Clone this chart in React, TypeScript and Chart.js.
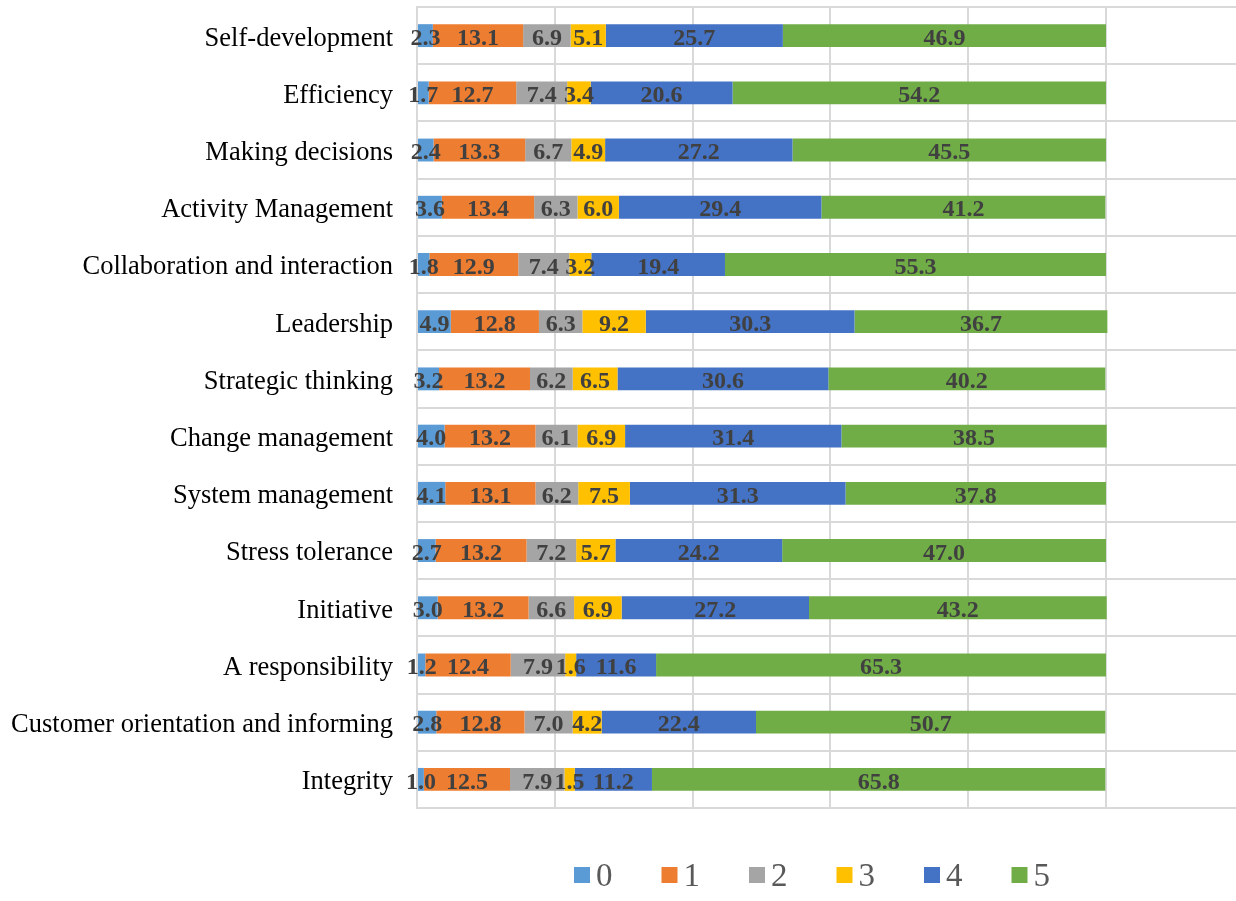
import React, { useEffect, useRef } from "react";
import { Chart, registerables } from "chart.js";

Chart.register(...registerables);

const categories = [
  "Self-development",
  "Efficiency",
  "Making decisions",
  "Activity Management",
  "Collaboration and interaction",
  "Leadership",
  "Strategic thinking",
  "Change management",
  "System management",
  "Stress tolerance",
  "Initiative",
  "A responsibility",
  "Customer orientation and informing",
  "Integrity",
];

const seriesNames = ["0", "1", "2", "3", "4", "5"];

const s0 = [2.3, 1.7, 2.4, 3.6, 1.8, 4.9, 3.2, 4.0, 4.1, 2.7, 3.0, 1.2, 2.8, 1.0];
const s1 = [13.1, 12.7, 13.3, 13.4, 12.9, 12.8, 13.2, 13.2, 13.1, 13.2, 13.2, 12.4, 12.8, 12.5];
const s2 = [6.9, 7.4, 6.7, 6.3, 7.4, 6.3, 6.2, 6.1, 6.2, 7.2, 6.6, 7.9, 7.0, 7.9];
const s3 = [5.1, 3.4, 4.9, 6.0, 3.2, 9.2, 6.5, 6.9, 7.5, 5.7, 6.9, 1.6, 4.2, 1.5];
const s4 = [25.7, 20.6, 27.2, 29.4, 19.4, 30.3, 30.6, 31.4, 31.3, 24.2, 27.2, 11.6, 22.4, 11.2];
const s5 = [46.9, 54.2, 45.5, 41.2, 55.3, 36.7, 40.2, 38.5, 37.8, 47.0, 43.2, 65.3, 50.7, 65.8];

const seriesValues = [s0, s1, s2, s3, s4, s5];
const colors = ["#5B9BD5", "#ED7D31", "#A5A5A5", "#FFC000", "#4472C4", "#70AD47"];

const SERIF = "'Liberation Serif', 'Times New Roman', serif";

const dataLabelPlugin = {
  id: "dataLabels",
  afterDatasetsDraw(chart: any) {
    const ctx = chart.ctx;
    ctx.save();
    ctx.font = `bold 24px ${SERIF}`;
    ctx.fillStyle = "#404040";
    ctx.textAlign = "center";
    ctx.textBaseline = "middle";
    chart.data.datasets.forEach((ds: any, i: number) => {
      const meta = chart.getDatasetMeta(i);
      meta.data.forEach((el: any, j: number) => {
        const v = ds.data[j];
        const x = (el.x + el.base) / 2;
        ctx.fillText(Number(v).toFixed(1), x, el.y + 3);
      });
    });
    ctx.restore();
  },
};

const customLegendPlugin = {
  id: "customLegend",
  afterDraw(chart: any) {
    const ctx = chart.ctx;
    ctx.save();
    ctx.font = `33px ${SERIF}`;
    const box = 16;
    const gapText = 6;
    const gapItem = 49;
    const items = chart.data.datasets.map((ds: any) => ({
      label: ds.label,
      color: ds.backgroundColor,
      w: box + gapText + ctx.measureText(ds.label).width,
    }));
    let x = 574;
    const yc = 875;
    ctx.textBaseline = "middle";
    ctx.textAlign = "left";
    items.forEach((it: any) => {
      ctx.fillStyle = it.color;
      ctx.fillRect(x, yc - box / 2, box, box);
      ctx.fillStyle = "#595959";
      ctx.fillText(it.label, x + box + gapText, yc + 2);
      x += it.w + gapItem;
    });
    ctx.restore();
  },
};

export default function App() {
  const ref = useRef<HTMLCanvasElement | null>(null);
  useEffect(() => {
    if (!ref.current) return;
    const chart = new Chart(ref.current, {
      type: "bar",
      data: {
        labels: categories,
        datasets: seriesNames.map((name, i) => ({
          label: name,
          data: seriesValues[i],
          backgroundColor: colors[i],
          borderWidth: 0,
          barPercentage: 0.4,
          categoryPercentage: 1,
        })),
      },
      options: {
        indexAxis: "y",
        responsive: false,
        animation: false,
        layout: { padding: { top: 7, bottom: 93, left: 0, right: 0 } },
        plugins: {
          legend: { display: false },
          tooltip: { enabled: false },
        },
        scales: {
          x: {
            stacked: true,
            min: 0,
            max: (100 * (1236 - 417)) / (1106 - 417),
            ticks: { display: false, stepSize: 20, includeBounds: false },
            grid: { color: "#D9D9D9", lineWidth: 2, drawTicks: false },
            border: { display: false },
            afterFit: (scale: any) => {
              scale.height = 0;
              scale.paddingLeft = 0;
              scale.paddingRight = 0;
            },
          },
          y: {
            stacked: true,
            ticks: {
              color: "#000000",
              font: { family: SERIF, size: 26.5 },
              padding: 24,
              labelOffset: 3,
            },
            grid: { color: "#D9D9D9", lineWidth: 2, drawTicks: false, offset: true },
            border: { display: true, color: "#D9D9D9", width: 2 },
            afterFit: (scale: any) => {
              scale.width = 417;
              scale.paddingTop = 0;
              scale.paddingBottom = 0;
            },
          },
        },
      },
      plugins: [dataLabelPlugin, customLegendPlugin],
    });
    return () => chart.destroy();
  }, []);
  return (
    <div style={{ position: "absolute", left: 0, top: 0, width: 1236, height: 901, background: "#fff" }}>
      <canvas ref={ref} width={1236} height={901} style={{ width: 1236, height: 901 }} />
    </div>
  );
}
